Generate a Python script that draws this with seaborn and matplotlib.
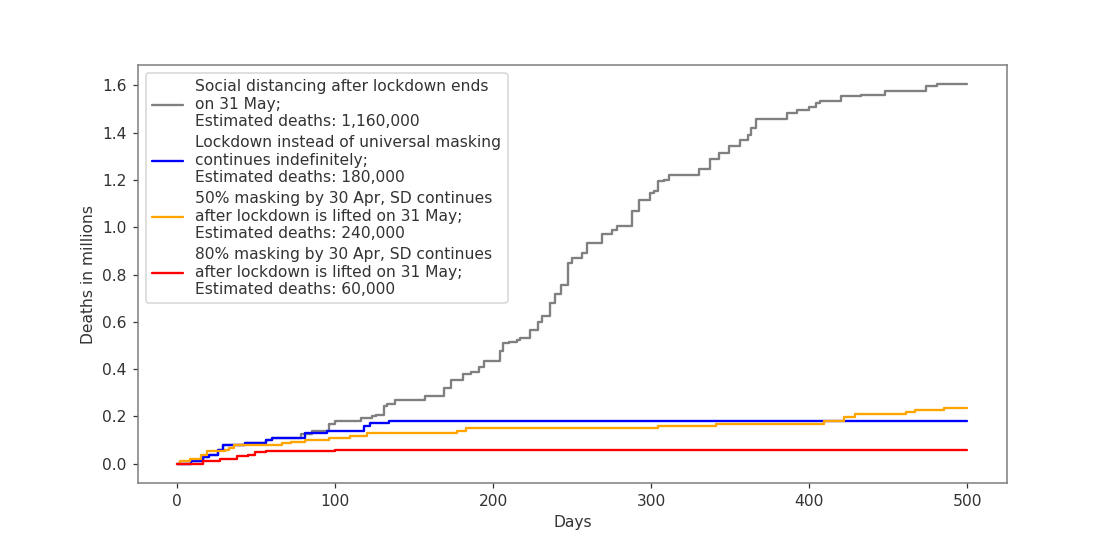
import numpy as np
import pandas as pd
import matplotlib
matplotlib.use("Agg")
import matplotlib.pyplot as plt
import seaborn as sns

# step knots (day, deaths in millions)
sd_days = [0, 9, 16, 20, 26, 29, 43, 56, 60, 78, 85, 96, 100, 116, 123, 126, 131, 133, 138, 157, 169, 173, 181,
           186, 191, 194, 204, 206, 210, 215, 217, 223, 228, 231, 236, 239, 243, 247, 250, 256, 259, 269, 275, 278,
           288, 292, 299, 302, 304, 308, 311, 330, 337, 343, 349, 356, 361, 363, 366, 386, 392, 400, 404, 407, 420,
           433, 448, 464, 474, 481, 500]
sd_vals = [0, 0.01, 0.03, 0.038, 0.06, 0.08, 0.09, 0.099, 0.11, 0.125, 0.14, 0.169, 0.18, 0.195, 0.2, 0.207, 0.245,
           0.253, 0.27, 0.288, 0.322, 0.356, 0.381, 0.39, 0.41, 0.433, 0.475, 0.51, 0.517, 0.525, 0.533, 0.567,
           0.598, 0.623, 0.68, 0.72, 0.757, 0.85, 0.87, 0.892, 0.935, 0.97, 0.987, 1.007, 1.068, 1.117, 1.147,
           1.153, 1.195, 1.2, 1.22, 1.248, 1.29, 1.316, 1.343, 1.37, 1.39, 1.42, 1.456, 1.485, 1.495, 1.51, 1.527,
           1.536, 1.557, 1.56, 1.575, 1.578, 1.596, 1.605, 1.605]

lock_days = [0, 9, 16, 20, 26, 29, 43, 56, 60, 81, 95, 118, 122, 134, 500]
lock_vals = [0, 0.01, 0.03, 0.038, 0.06, 0.08, 0.09, 0.099, 0.11, 0.131, 0.137, 0.158, 0.173, 0.18, 0.18]

m50_days = [0, 2, 8, 15, 19, 30, 33, 36, 66, 72, 81, 96, 109, 120, 177, 183, 304, 341, 409, 422, 429, 461, 467,
            485, 500]
m50_vals = [0, 0.01, 0.02, 0.038, 0.052, 0.06, 0.067, 0.08, 0.09, 0.094, 0.1, 0.11, 0.118, 0.131, 0.14, 0.151,
            0.158, 0.168, 0.179, 0.198, 0.212, 0.221, 0.229, 0.238, 0.238]

m80_days = [0, 16, 27, 38, 45, 49, 56, 100, 500]
m80_vals = [0, 0.01, 0.02, 0.031, 0.038, 0.048, 0.053, 0.06, 0.06]

labels = [
    "Social distancing after lockdown ends\non 31 May;\nEstimated deaths: 1,160,000",
    "Lockdown instead of universal masking\ncontinues indefinitely;\nEstimated deaths: 180,000",
    "50% masking by 30 Apr, SD continues\nafter lockdown is lifted on 31 May;\nEstimated deaths: 240,000",
    "80% masking by 30 Apr, SD continues\nafter lockdown is lifted on 31 May;\nEstimated deaths: 60,000",
]
colors = ["grey", "blue", "orange", "red"]

sns.set_style("ticks", rc={"axes.edgecolor": "#7f7f7f", "text.color": "#333333",
                           "axes.labelcolor": "#333333", "xtick.color": "#333333",
                           "ytick.color": "#333333"})
plt.rcParams["font.family"] = ["DejaVu Sans"]
plt.rcParams["font.size"] = 10

fig, ax = plt.subplots(figsize=(10, 553 / 112), dpi=112)
fig.subplots_adjust(left=0.123, right=0.899, top=0.882, bottom=0.127)

series = [(sd_days, sd_vals), (lock_days, lock_vals), (m50_days, m50_vals), (m80_days, m80_vals)]
for (d, v), lab, col in zip(series, labels, colors):
    sns.lineplot(x=d, y=v, drawstyle="steps-post", color=col, label=lab, linewidth=1.5, ax=ax)

ax.set_xticks([0, 100, 200, 300, 400, 500])
ax.set_yticks(np.arange(0, 1.61, 0.2))
ax.set_xlabel("Days")
ax.set_ylabel("Deaths in millions")
for s in ax.spines.values():
    s.set_visible(True)
    s.set_linewidth(1.0)
ax.legend(loc="upper left", fontsize=10, labelspacing=0.4, handlelength=2.0)

fig.savefig("out.png", dpi=112)
